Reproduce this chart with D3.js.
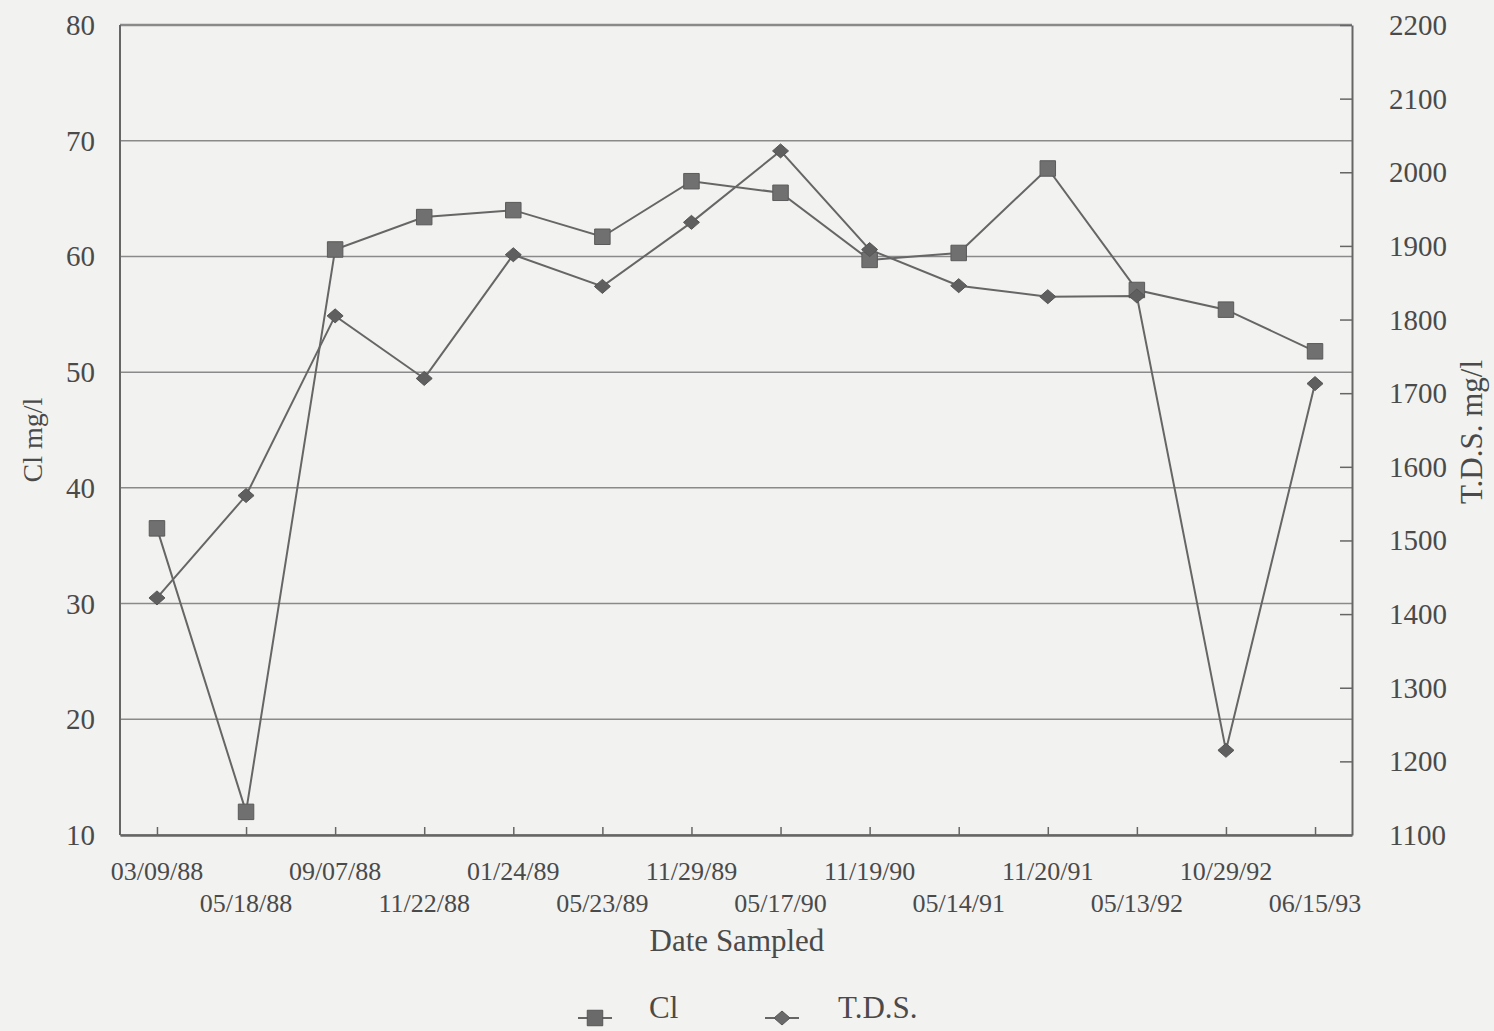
<!DOCTYPE html>
<html>
<head>
<meta charset="utf-8">
<script src="https://cdn.jsdelivr.net/npm/d3@7"></script>
<style>
  html, body { margin: 0; padding: 0; background: #f2f2f0; overflow: hidden; }
  #chart { width: 1494px; height: 1031px; }
  #chart svg { display: block; }
</style>
</head>
<body>
<div id="chart"></div>
<script>
const dates = ["03/09/88", "05/18/88", "09/07/88", "11/22/88", "01/24/89", "05/23/89", "11/29/89",
               "05/17/90", "11/19/90", "05/14/91", "11/20/91", "05/13/92", "10/29/92", "06/15/93"];
const clValues  = [36.5, 12.0, 60.6, 63.4, 64.0, 61.7, 66.5, 65.5, 59.7, 60.3, 67.6, 57.1, 55.4, 51.8];
const tdsValues = [1422, 1561, 1805, 1720, 1888, 1845, 1932, 2029, 1895, 1846, 1831, 1832, 1215, 1713];
const clTicks  = [10, 20, 30, 40, 50, 60, 70, 80];
const tdsTicks = [1100, 1200, 1300, 1400, 1500, 1600, 1700, 1800, 1900, 2000, 2100, 2200];

const container = d3.select("#chart");
const width = 1494;
const height = 1031;

const margin = { top: 25, right: 142, bottom: 196, left: 120 };
const innerWidth = width - margin.left - margin.right;
const innerHeight = height - margin.top - margin.bottom;

const font = "Liberation Serif, DejaVu Serif, serif";
const textColor = "#4a4a4a";
const ink = "#666";

const svg = container.append("svg")
    .attr("width", width)
    .attr("height", height)
    .attr("font-family", font);

// Scales (page coordinates)
const x = d3.scalePoint()
    .domain(dates)
    .range([margin.left, margin.left + innerWidth])
    .padding(0.415);

const yCl = d3.scaleLinear()
    .domain([10, 80])
    .range([margin.top + innerHeight, margin.top]);

const yTds = d3.scaleLinear()
    .domain([1100, 2200])
    .range([margin.top + innerHeight, margin.top]);

const right = margin.left + innerWidth;
const bottom = margin.top + innerHeight;

// Gridlines (left axis)
svg.selectAll(".grid")
    .data(clTicks)
    .enter()
    .append("line")
    .attr("class", "grid")
    .attr("x1", margin.left)
    .attr("x2", right)
    .attr("y1", d => yCl(d))
    .attr("y2", d => yCl(d))
    .style("stroke", "#8a8a8a")
    .style("stroke-width", d => d === 80 ? 2.5 : 1.5);

// left frame side
svg.append("line")
    .attr("x1", margin.left).attr("x2", margin.left)
    .attr("y1", margin.top).attr("y2", bottom)
    .style("stroke", ink).style("stroke-width", 2);

// Right axis: line + inner ticks
const rightAxis = svg.append("g")
    .attr("transform", `translate(${right},0)`)
    .call(d3.axisRight(yTds).tickValues(tdsTicks).tickFormat("")
        .tickSizeInner(-12).tickSizeOuter(0));
rightAxis.select(".domain").style("stroke", ink).style("stroke-width", 2);
rightAxis.selectAll(".tick line").style("stroke", ink).style("stroke-width", 1.5);
rightAxis.selectAll(".tick text").remove();

// Bottom axis: line + inner ticks
const bottomAxis = svg.append("g")
    .attr("transform", `translate(0,${bottom})`)
    .call(d3.axisBottom(x).tickFormat("").tickSizeInner(-8).tickSizeOuter(0));
bottomAxis.select(".domain").style("stroke", ink).style("stroke-width", 2.5);
bottomAxis.selectAll(".tick line").style("stroke", ink).style("stroke-width", 1.5);
bottomAxis.selectAll(".tick text").remove();

// Tick labels
svg.selectAll(".cl-label")
    .data(clTicks)
    .enter()
    .append("text")
    .attr("class", "cl-label")
    .attr("x", margin.left - 25)
    .attr("y", d => yCl(d) + 10)
    .attr("text-anchor", "end")
    .attr("font-size", 29)
    .attr("fill", textColor)
    .text(d => d);

svg.selectAll(".tds-label")
    .data(tdsTicks)
    .enter()
    .append("text")
    .attr("class", "tds-label")
    .attr("x", right + 37)
    .attr("y", d => yTds(d) + 10)
    .attr("font-size", 29)
    .attr("fill", textColor)
    .text(d => d);

svg.selectAll(".date-label")
    .data(dates)
    .enter()
    .append("text")
    .attr("class", "date-label")
    .attr("x", d => x(d))
    .attr("y", (d, i) => bottom + (i % 2 === 0 ? 45 : 77))
    .attr("text-anchor", "middle")
    .attr("font-size", 26)
    .attr("fill", textColor)
    .text(d => d);

// Axis titles
svg.append("text")
    .attr("x", 737)
    .attr("y", 951)
    .attr("text-anchor", "middle")
    .attr("font-size", 31)
    .attr("fill", textColor)
    .text("Date Sampled");

svg.append("text")
    .attr("x", 42)
    .attr("y", 440)
    .attr("transform", "rotate(-90, 42, 440)")
    .attr("text-anchor", "middle")
    .attr("font-size", 28)
    .attr("fill", textColor)
    .text("Cl mg/l");

svg.append("text")
    .attr("x", 1482)
    .attr("y", 432)
    .attr("transform", "rotate(-90, 1482, 432)")
    .attr("text-anchor", "middle")
    .attr("font-size", 31)
    .attr("fill", textColor)
    .text("T.D.S. mg/l");

// Lines
const clLine = d3.line()
    .x((d, i) => x(dates[i]))
    .y(d => yCl(d));

const tdsLine = d3.line()
    .x((d, i) => x(dates[i]))
    .y(d => yTds(d));

svg.append("path")
    .datum(clValues)
    .attr("d", clLine)
    .style("fill", "none")
    .style("stroke", ink)
    .style("stroke-width", 2);

svg.append("path")
    .datum(tdsValues)
    .attr("d", tdsLine)
    .style("fill", "none")
    .style("stroke", ink)
    .style("stroke-width", 2);

// Markers
const square = d3.symbol().type(d3.symbolSquare).size(240);
const diamond = "M0,-7L8,0L0,7L-8,0Z";

svg.selectAll(".cl-pt")
    .data(clValues)
    .enter()
    .append("path")
    .attr("class", "cl-pt")
    .attr("d", square)
    .attr("transform", (d, i) => `translate(${x(dates[i])},${yCl(d)})`)
    .style("fill", "#707070")
    .style("stroke", "#5a5a5a")
    .style("stroke-width", 1);

svg.selectAll(".tds-pt")
    .data(tdsValues)
    .enter()
    .append("path")
    .attr("class", "tds-pt")
    .attr("d", diamond)
    .attr("transform", (d, i) => `translate(${x(dates[i])},${yTds(d)})`)
    .style("fill", "#5f5f5f")
    .style("stroke", "#555")
    .style("stroke-width", 1);

// Legend
const legendY = 1018;
const legendItems = [
    { name: "Cl", x0: 578, marker: square, textX: 649 },
    { name: "T.D.S.", x0: 765, marker: diamond, textX: 838 }
];

legendItems.forEach(item => {
    svg.append("line")
        .attr("x1", item.x0).attr("x2", item.x0 + 34)
        .attr("y1", legendY).attr("y2", legendY)
        .style("stroke", ink).style("stroke-width", 2);
    svg.append("path")
        .attr("d", item.marker)
        .attr("transform", `translate(${item.x0 + 17},${legendY})`)
        .style("fill", "#6a6a6a")
        .style("stroke", "#555");
    svg.append("text")
        .attr("x", item.textX)
        .attr("y", legendY)
        .attr("font-size", 31)
        .attr("fill", textColor)
        .text(item.name);
});
</script>
</body>
</html>
